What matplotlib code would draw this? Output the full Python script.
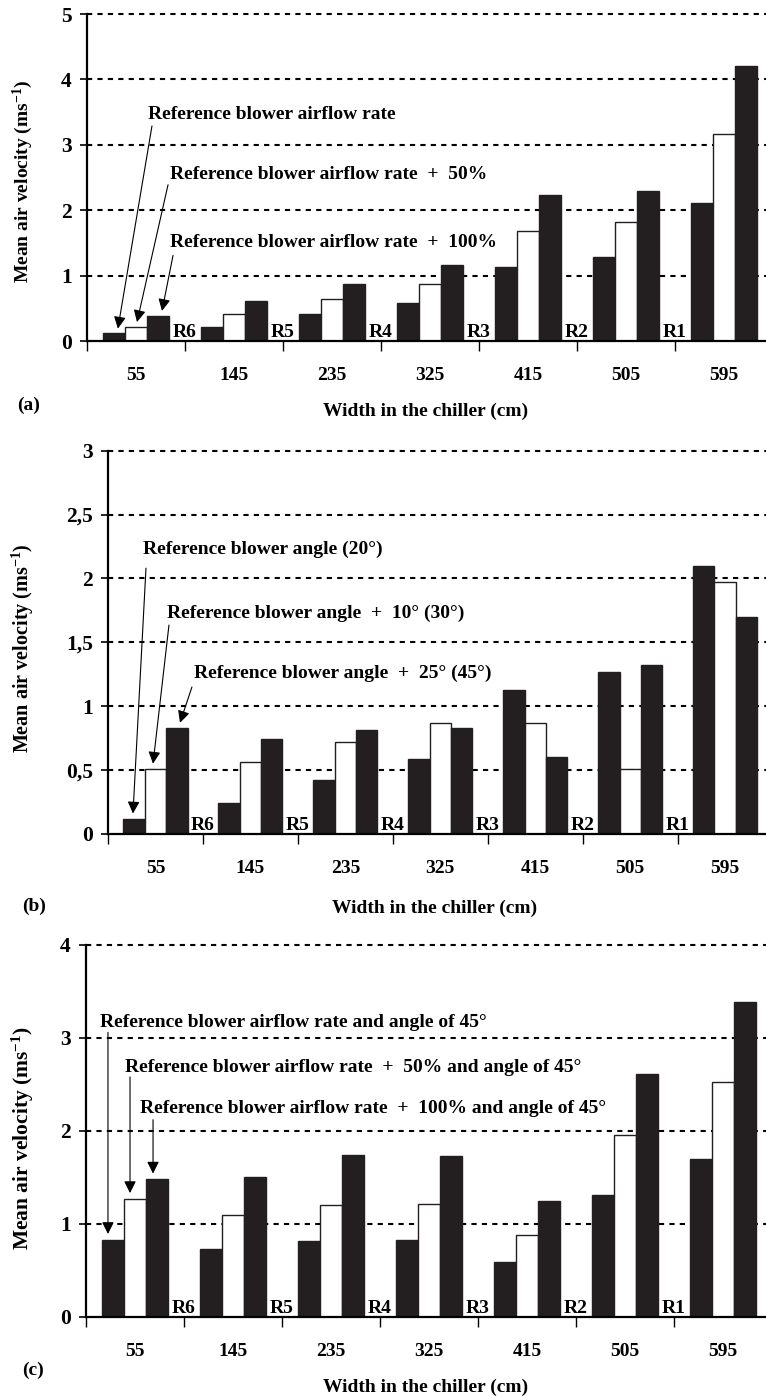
import matplotlib
matplotlib.use('Agg')
import matplotlib.pyplot as plt
import numpy as np

plt.rcParams['font.family'] = ['Liberation Serif', 'DejaVu Serif']
plt.rcParams['font.weight'] = 'bold'
plt.rcParams['font.size'] = 14
plt.rcParams['mathtext.fontset'] = 'custom'
plt.rcParams['mathtext.rm'] = 'Liberation Serif:bold'
plt.rcParams['mathtext.it'] = 'Liberation Serif:bold'
plt.rcParams['mathtext.bf'] = 'Liberation Serif:bold'

widths = ['55', '145', '235', '325', '415', '505', '595']
rows = ['R6', 'R5', 'R4', 'R3', 'R2', 'R1']

# (a) blower airflow rate
a_ref = [0.12, 0.22, 0.42, 0.58, 1.13, 1.28, 2.11]
a_50 = [0.22, 0.42, 0.65, 0.87, 1.69, 1.82, 3.16]
a_100 = [0.39, 0.62, 0.88, 1.16, 2.23, 2.30, 4.21]

# (b) blower angle
b_20 = [0.12, 0.24, 0.42, 0.59, 1.13, 1.27, 2.10]
b_30 = [0.51, 0.56, 0.72, 0.87, 0.87, 0.51, 1.97]
b_45 = [0.83, 0.74, 0.81, 0.83, 0.60, 1.32, 1.70]

# (c) airflow rate at 45 deg
c_ref = [0.83, 0.73, 0.81, 0.82, 0.59, 1.31, 1.70]
c_50 = [1.27, 1.09, 1.20, 1.21, 0.88, 1.96, 2.53]
c_100 = [1.48, 1.50, 1.74, 1.73, 1.24, 2.61, 3.39]

a_notes = ['Reference blower airflow rate',
           'Reference blower airflow rate  +  50%',
           'Reference blower airflow rate  +  100%']
b_notes = ['Reference blower angle (20°)',
           'Reference blower angle  +  10° (30°)',
           'Reference blower angle  +  25° (45°)']
c_notes = ['Reference blower airflow rate and angle of 45°',
           'Reference blower airflow rate  +  50% and angle of 45°',
           'Reference blower airflow rate  +  100% and angle of 45°']

BLACK = '#231f20'
W = 0.225

fig = plt.figure(figsize=(7.66, 13.96), dpi=100)


def panel(rect, xmax, series, ymax, ylabels, notes, text_pos, arrow_from, arrow_dx, gap):
    ax = fig.add_axes(rect)
    x = np.arange(len(widths))
    fills = [BLACK, 'white', BLACK]
    for k, vals in enumerate(series):
        ax.bar(x + (k - 1) * W, vals, W, color=fills[k], edgecolor=BLACK,
               linewidth=1.0, zorder=2)
    ax.set_xlim(-0.5, xmax)
    ax.set_ylim(0, ymax)
    yt = np.linspace(0, ymax, len(ylabels))
    ax.set_yticks(yt)
    ax.set_yticklabels(ylabels, fontsize=15.5)
    for v in yt[1:]:
        ax.axhline(v, color='black', lw=1.5, ls=(0, (2.5, 2.5)), zorder=1, clip_on=False)
    for s in ['top', 'right']:
        ax.spines[s].set_visible(False)
    for s in ['left', 'bottom']:
        ax.spines[s].set_linewidth(1.6)
        ax.spines[s].set_zorder(3)
    ax.set_xticks(x)
    ax.set_xticklabels(widths)
    ax.set_xticks(np.arange(-0.5, len(widths) - 1, 1.0), minor=True)
    ax.tick_params(axis='x', which='major', length=0, pad=19)
    ax.tick_params(axis='x', which='minor', length=7, width=1.0, direction='out')
    ax.tick_params(axis='y', length=5, width=1.2, direction='out', pad=6)
    for i, r in enumerate(rows):
        ax.annotate(r, xy=(i + 0.5, 0), xytext=(0, 3), textcoords='offset points',
                    ha='center', va='baseline', zorder=4)
    for k in range(3):
        ax.text(text_pos[k][0], text_pos[k][1], notes[k], ha='left', va='center', zorder=4)
        tip = ((k - 1) * W + arrow_dx[k], series[k][0] + gap)
        ax.annotate('', xy=tip, xytext=arrow_from[k],
                    arrowprops=dict(arrowstyle='-|>', color='black', lw=0.8,
                                    mutation_scale=18, shrinkA=0, shrinkB=0), zorder=4)
    return ax


panel([0.1136, 0.7557, 0.8864, 0.2342], 6.43, [a_ref, a_50, a_100], 5,
      ['0', '1', '2', '3', '4', '5'], a_notes,
      [(0.122, 3.46), (0.347, 2.54), (0.347, 1.50)],
      [(0.163, 3.29), (0.327, 2.39), (0.378, 1.31)],
      [0.04, 0.01, 0.04], 0.07)

panel([0.141, 0.4026, 0.859, 0.2746], 6.43, [b_20, b_30, b_45], 3,
      ['0', '0,5', '1', '1,5', '2', '2,5', '3'], b_notes,
      [(-0.132, 2.23), (0.121, 1.73), (0.405, 1.26)],
      [(-0.10, 2.08), (0.142, 1.635), (0.384, 1.15)],
      [-0.012, -0.026, 0.033], 0.04)

panel([0.1123, 0.0568, 0.8877, 0.2663], 6.44, [c_ref, c_50, c_100], 4,
      ['0', '1', '2', '3', '4'], c_notes,
      [(-0.357, 3.17), (-0.102, 2.68), (0.051, 2.24)],
      [(-0.276, 3.06), (-0.051, 2.58), (0.184, 2.12)],
      [-0.051, -0.051, -0.041], 0.06)

ylab = 'Mean air velocity (ms$^{-1}$)'
fig.text(23 / 766, 1 - 181 / 1396, ylab, rotation=90, ha='center', va='center', fontsize=14)
fig.text(23 / 766, 1 - 648 / 1396, ylab, rotation=90, ha='center', va='center', fontsize=14.5)
fig.text(23 / 766, 1 - 1138 / 1396, ylab, rotation=90, ha='center', va='center', fontsize=15.5)

xlab = 'Width in the chiller (cm)'
fig.text(426 / 766, 1 - 411 / 1396, xlab, ha='center', va='center')
fig.text(435 / 766, 1 - 908 / 1396, xlab, ha='center', va='center')
fig.text(426 / 766, 1 - 1387 / 1396, xlab, ha='center', va='center')

fig.text(17 / 766, 1 - 405 / 1396, '(a)', ha='left', va='center')
fig.text(22 / 766, 1 - 906 / 1396, '(b)', ha='left', va='center')
fig.text(22 / 766, 1 - 1370 / 1396, '(c)', ha='left', va='center')

fig.savefig('out.png', dpi=100)
